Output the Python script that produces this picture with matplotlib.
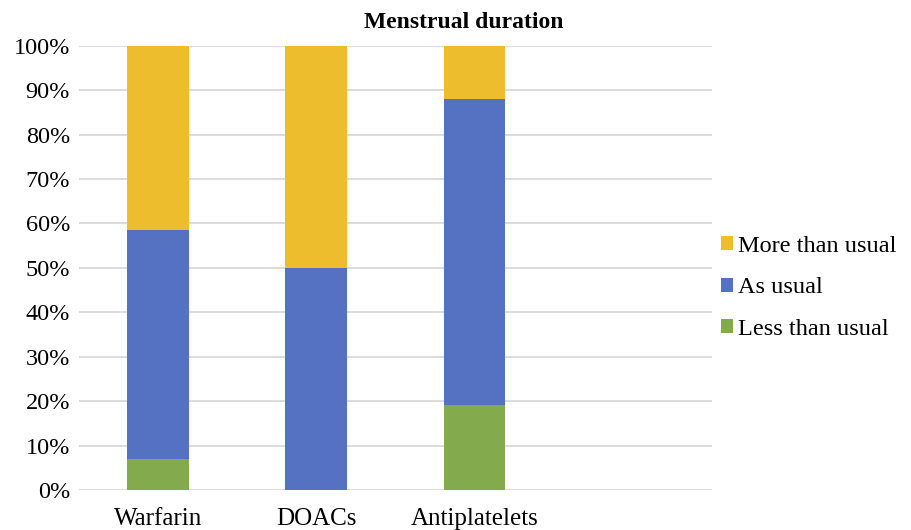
import matplotlib.pyplot as plt
import numpy as np

plt.rcParams['font.family'] = ['Liberation Serif', 'DejaVu Serif']

groups = ['Warfarin', 'DOACs', 'Antiplatelets']
less_than_usual = [6.9, 0.0, 19.2]
as_usual = [51.7, 50.0, 68.7]
more_than_usual = [41.4, 50.0, 12.1]
yticks = [0, 10, 20, 30, 40, 50, 60, 70, 80, 90, 100]

fig = plt.figure(figsize=(9.12, 5.3), dpi=100)
ax = fig.add_axes([0.0866, 0.0755, 0.694, 0.8383])

x = np.arange(len(groups))
w = 0.39
b1 = ax.bar(x, less_than_usual, w, color='#84AA4E', label='Less than usual', zorder=3)
b2 = ax.bar(x, as_usual, w, bottom=less_than_usual, color='#5472C1', label='As usual', zorder=3)
bottom3 = np.array(less_than_usual) + np.array(as_usual)
b3 = ax.bar(x, more_than_usual, w, bottom=bottom3, color='#EDBD2E', label='More than usual', zorder=3)

ax.set_xlim(-0.5, 3.5)
ax.set_ylim(0, 100)
ax.set_yticks(yticks)
ax.set_yticklabels([f'{v}%' for v in yticks], fontsize=17.5)
ax.set_xticks(x)
ax.set_xticklabels(groups, fontsize=18)
ax.tick_params(axis='y', length=0, pad=6.5)
ax.tick_params(axis='x', length=0, pad=13)
ax.yaxis.grid(True, color='#D9D9D9', linewidth=1.3, zorder=0)
for s in ax.spines.values():
    s.set_visible(False)

fig.text(0.508, 0.958, 'Menstrual duration', ha='center', va='center',
         fontsize=17, fontweight='bold')

ax.legend(handles=[b3, b2, b1], loc='center left', bbox_to_anchor=(0.98, 0.455),
          frameon=False, fontsize=17.5, handlelength=0.5, handleheight=0.5,
          handletextpad=0.2, labelspacing=0.85)

fig.savefig('out.png', dpi=100)
